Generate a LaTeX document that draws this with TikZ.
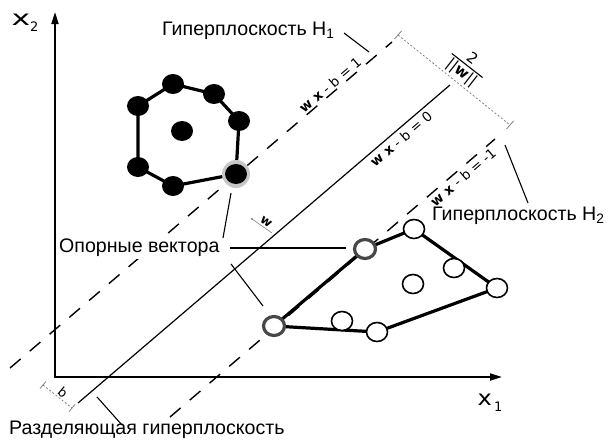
\documentclass[tikz,border=0pt]{standalone}
\usepackage{fontspec}
\setmainfont{Liberation Sans}
\newfontfamily\dejavu{DejaVu Sans}
\usetikzlibrary{arrows.meta,shapes.geometric,calc}
\begin{document}
\begin{tikzpicture}[x=1pt,y=-1pt,
  axisline/.style={line width=1.8pt,{Triangle[length=12pt,width=7pt]}-{Triangle[length=12pt,width=7pt]}},
  hyper/.style={line width=1.2pt},
  margin/.style={line width=1.4pt,dash pattern=on 14pt off 12pt},
  hull/.style={line width=3.2pt,line join=round},
  bdot/.style={ellipse,fill=black,minimum width=22pt,minimum height=20pt,inner sep=0pt},
  glow/.style={circle,fill=black!22,minimum size=28pt,inner sep=0pt},
  wdot/.style={ellipse,draw=black,line width=1.6pt,fill=white,minimum width=21pt,minimum height=19pt,inner sep=0pt},
  svdot/.style={wdot,draw=black!72,line width=3.2pt},
  leader/.style={line width=1.1pt},
  lbl/.style={font=\fontsize{19.6}{22}\selectfont,inner sep=0pt},
  eqlbl/.style={font=\dejavu\fontsize{13.5}{15}\selectfont,inner sep=0pt,rotate=40.5},
  meas/.style={gray,line width=0.8pt,dash pattern=on 2pt off 2pt},
  axlbl/.style={font=\dejavu\fontsize{21}{21}\selectfont,inner sep=0pt}]
\useasboundingbox (0,0) rectangle (608,442);
% axes
\coordinate (O) at (55,377);
\coordinate (Ytip) at (55,12);
\coordinate (Xtip) at (502,377);
\draw[axisline] (Ytip) -- (O) -- (Xtip);
\node[axlbl] (x2) at (25,23) {\scalebox{1.5}[1]{x}\raisebox{-6pt}{\fontsize{13}{13}\selectfont 2}};
\node[axlbl] (x1) at (490,403) {\scalebox{1.15}[1]{x}\kern2pt\raisebox{-6pt}{\fontsize{13}{13}\selectfont 1}};
% hyperplanes
\coordinate (S1) at (78,403);  \coordinate (S2) at (450,85);
\coordinate (A1) at (10,368);  \coordinate (A2) at (392,42);
\coordinate (B1) at (170,417); \coordinate (B2) at (495,139);
\draw[hyper] (S1) -- (S2);
\draw[margin] (A1) -- (A2);
\draw[margin] (B1) -- (B2);
\node[eqlbl] (eq1) at (330,85) {\textbf{w x} - b = 1};
\node[eqlbl] (eq0) at (401,139) {\textbf{w x} - b = 0};
\node[eqlbl] (eqm) at (463,177) {\textbf{w x} - b = -1};
% margin width
\coordinate (M1) at (398,35); \coordinate (M2) at (510,125);
\draw[meas] (M1) -- (M2);
\draw[gray,line width=0.8pt] ($(M1)+(-3.5,4)$) -- ($(M1)+(3.5,-4)$);
\draw[gray,line width=0.8pt] ($(M2)+(-3.5,4)$) -- ($(M2)+(3.5,-4)$);
\node[font=\dejavu\fontsize{15}{16}\selectfont,rotate=-38,inner sep=0pt] (frac) at (466,67)
  {\setlength{\arrayrulewidth}{1.1pt}\begin{tabular}{@{\,}c@{\,}}2\\[-2pt]\hline\rule{0pt}{13pt}||\textbf{w}||\end{tabular}};
% w vector
\coordinate (W1) at (272,233); \coordinate (W2) at (252,219);
\draw[gray,line width=0.6pt] (W1) -- (W2);
\fill[gray] (W2) circle (1.2);
\node[font=\dejavu\bfseries\fontsize{12.5}{14}\selectfont,rotate=-35,inner sep=0pt] (wl) at (266,222) {w};
% b offset
\coordinate (b1) at (43,385); \coordinate (b2) at (72,408);
\draw[meas] (b1) -- (b2);
\draw[gray,line width=0.8pt] ($(b1)+(-3,3.5)$) -- ($(b1)+(3,-3.5)$);
\draw[gray,line width=0.8pt] ($(b2)+(-3,3.5)$) -- ($(b2)+(3,-3.5)$);
\node[font=\dejavu\fontsize{13}{14}\selectfont,rotate=-40,inner sep=0pt] (bl) at (63,392) {b};
% class 1 (black)
\coordinate (p1) at (138,106);
\coordinate (p2) at (173,84);
\coordinate (p3) at (214,94);
\coordinate (p4) at (239,121);
\coordinate (p5) at (236,174);
\coordinate (p6) at (173,186);
\coordinate (p7) at (138,167);
\coordinate (p8) at (182,131);
\draw[hull] (p1) -- (p2) -- (p3) -- (p4) -- (p5) -- (p6) -- (p7) -- cycle;
\node[glow] (g5) at (p5) {};
\foreach \i in {1,...,8} \node[bdot] (n\i) at (p\i) {};
% class 2 (white)
\coordinate (q1) at (274,326);
\coordinate (q2) at (365,249);
\coordinate (q3) at (414,229);
\coordinate (q4) at (497,288);
\coordinate (q5) at (377,332);
\coordinate (q6) at (454,268);
\coordinate (q7) at (413,284);
\coordinate (q8) at (342,321);
\draw[hull] (q1) -- (q2) -- (q3) -- (q4) -- (q5) -- cycle;
\foreach \i in {3,...,8} \node[wdot] (m\i) at (q\i) {};
\node[svdot] (m1) at (q1) {};
\node[svdot] (m2) at (q2) {};
% labels
\node[lbl,anchor=west] (H1) at (162,31) {Гиперплоскость H\textsubscript{1}};
\coordinate (h1a) at (344,33); \coordinate (h1b) at (369,52);
\draw[leader] (h1a) -- (h1b);
\node[lbl,anchor=west] (H2) at (432,216) {Гиперплоскость H\textsubscript{2}};
\coordinate (h2a) at (528,203); \coordinate (h2b) at (505,145);
\draw[leader] (h2a) -- (h2b);
\node[lbl,anchor=west,fill=white,inner ysep=2pt] (SV) at (59,248) {Опорные вектора};
\coordinate (sva) at (230,248); \coordinate (svb) at (346,248);
\coordinate (svc) at (223,238); \coordinate (svd) at (231,193);
\coordinate (sve) at (231,264); \coordinate (svf) at (263,306);
\draw[leader] (sva) -- (svb);
\draw[leader] (svc) -- (svd);
\draw[leader] (sve) -- (svf);
\node[lbl,anchor=west] (SEP) at (9,430) {Разделяющая гиперплоскость};
\coordinate (spa) at (122,425); \coordinate (spb) at (97,397);
\draw[leader] (spa) -- (spb);
\end{tikzpicture}
\end{document}
